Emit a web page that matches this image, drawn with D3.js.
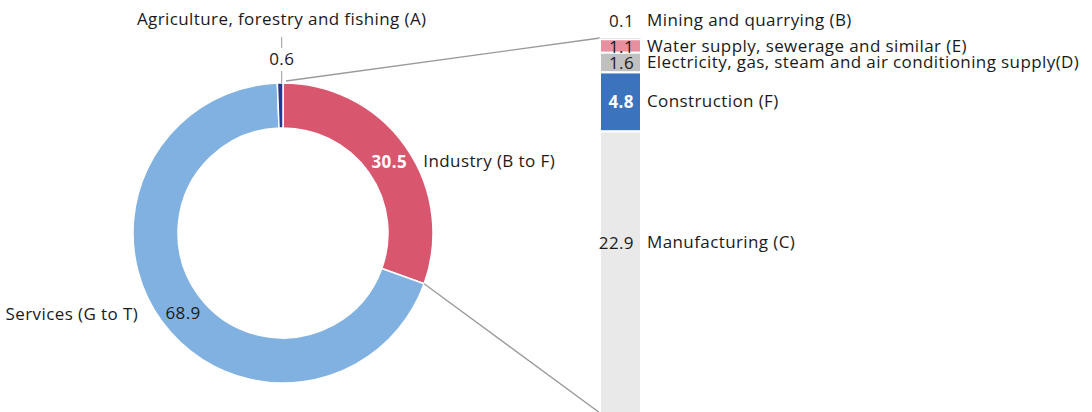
<!DOCTYPE html>
<html><head><meta charset="utf-8">
<script src="https://cdn.jsdelivr.net/npm/d3@7"></script>
<style>
html,body{margin:0;padding:0;background:#fff;}
svg{display:block;}
text{font-family:"Open Sans",sans-serif;font-size:17px;letter-spacing:0.4px;fill:#1a1a1a;}
</style></head>
<body><svg id="c" width="1092" height="412"></svg>
<script>
// Donut data (share of gross value added, %)
const pieCategories = ["Industry (B to F)", "Services (G to T)", "Agriculture, forestry and fishing (A)"];
const pieValues = [30.5, 68.9, 0.6];
const pieColors = ["#d9566f", "#80b1e0", "#26388c"];

// Breakdown of Industry (top to bottom)
const barCategories = ["Mining and quarrying (B)", "Water supply, sewerage and similar (E)", "Electricity, gas, steam and air conditioning supply(D)", "Construction (F)", "Manufacturing (C)"];
const barValues = [0.1, 1.1, 1.6, 4.8, 22.9];
const barColors = ["#9a9a9a", "#e8909f", "#c0c0c0", "#3b73bd", "#e9e9e9"];

const svg = d3.select("#c");
const cx = 283, cy = 233, rOuter = 150, rInner = 105;

const pie = d3.pie().sort(null).value(d => d).startAngle(0).endAngle(2 * Math.PI);
const arcs = pie(pieValues);
const arc = d3.arc().innerRadius(rInner).outerRadius(rOuter);
const g = svg.append("g").attr("transform", `translate(${cx},${cy})`);

const ind = arcs[0];
const pt = (a, r) => [Math.sin(a) * r, -Math.cos(a) * r];

// Bar scale
const barX = 600, barW = 41;
const y = d3.scaleLinear().domain([0, d3.sum(barValues)]).range([38, 413]);
let cum = 0;
const segs = barValues.map((v, i) => { const s = { v, i, y0: cum, y1: cum + v }; cum += v; return s; });

// connector lines (behind)
const p0 = pt(ind.startAngle, rOuter), p1 = pt(ind.endAngle, rOuter);
svg.append("line").attr("x1", cx + p0[0] + 3).attr("y1", cy + p0[1] - 2)
  .attr("x2", barX).attr("y2", y(0)).attr("stroke", "#999").attr("stroke-width", 1.3);
svg.append("line").attr("x1", cx + p1[0]).attr("y1", cy + p1[1])
  .attr("x2", barX).attr("y2", y(d3.sum(barValues))).attr("stroke", "#999").attr("stroke-width", 1.3);

g.selectAll("path").data(arcs).join("path")
  .attr("d", arc).attr("fill", (d, i) => pieColors[i])
  .attr("stroke", "#fff").attr("stroke-width", 1.5);

// Pie value labels
const c0 = arc.centroid(arcs[0]);
g.append("text").attr("x", c0[0] + 2).attr("y", c0[1] + 4).attr("text-anchor", "middle")
  .attr("dominant-baseline", "middle").style("fill", "#fff").style("font-weight", "bold").text(pieValues[0]);
g.append("text").attr("x", c0[0] + 36).attr("y", c0[1] + 3).attr("dominant-baseline", "middle").text(pieCategories[0]);
const c1 = arc.centroid(arcs[1]);
g.append("text").attr("x", c1[0] + 3).attr("y", c1[1] + 6).attr("text-anchor", "middle")
  .attr("dominant-baseline", "middle").text(pieValues[1]);
g.append("text").attr("x", c1[0] - 42).attr("y", c1[1] + 7).attr("text-anchor", "end")
  .attr("dominant-baseline", "middle").text(pieCategories[1]);
// Agriculture callout
const ax = cx - 1.3;
svg.append("line").attr("x1", ax).attr("x2", ax).attr("y1", 37).attr("y2", 48).attr("stroke", "#999").attr("stroke-width", 1);
svg.append("line").attr("x1", ax).attr("x2", ax).attr("y1", 71).attr("y2", cy - rOuter).attr("stroke", "#999").attr("stroke-width", 1);
svg.append("text").attr("x", ax).attr("y", 60).attr("text-anchor", "middle").attr("dominant-baseline", "middle").text(pieValues[2]);
svg.append("text").attr("x", ax).attr("y", 20).attr("text-anchor", "middle").attr("dominant-baseline", "middle").text(pieCategories[2]);

// Bar segments
svg.selectAll("rect.seg").data(segs).join("rect").attr("class", "seg")
  .attr("x", barX).attr("width", barW)
  .attr("y", d => y(d.y0)).attr("height", d => Math.max(1.2, y(d.y1) - y(d.y0)))
  .attr("fill", d => barColors[d.i])
  .attr("stroke", "#fff").attr("stroke-width", d => d.i === 0 ? 0 : 2);

// Bar labels
const labelY = d => {
  if (d.i === 0) return y(d.y0) - 17;
  if (d.i === segs.length - 1) return y(d.y0) + 112;
  return (y(d.y0) + y(d.y1)) / 2 + 1;
};
svg.selectAll("text.bv").data(segs).join("text").attr("class", "bv")
  .attr("x", barX + 34).attr("y", d => labelY(d) + 1).attr("text-anchor", "end").attr("dominant-baseline", "middle")
  .style("fill", d => d.i === 3 ? "#fff" : "#1a1a1a").style("font-weight", d => d.i === 3 ? "bold" : "normal")
  .text(d => d.v.toFixed(1));
svg.selectAll("text.bl").data(segs).join("text").attr("class", "bl")
  .attr("x", barX + 47).attr("y", d => labelY(d)).attr("dominant-baseline", "middle")
  .text(d => barCategories[d.i]);
</script></body></html>
